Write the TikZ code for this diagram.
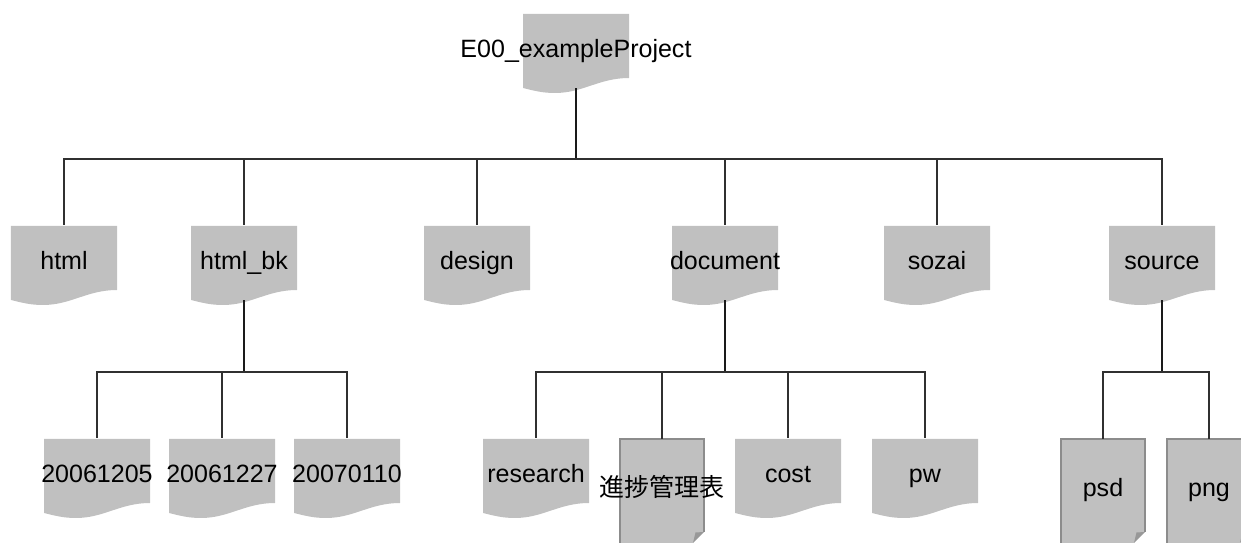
\documentclass[tikz,border=0pt]{standalone}
\usepackage{fontspec}
\setmainfont{Liberation Sans}
\newfontfamily\cjkfont{Noto Sans CJK JP}
\definecolor{docgray}{HTML}{C0C0C0}
\definecolor{edgegray}{HTML}{8C8C8C}
\definecolor{foldgray}{HTML}{989898}
\definecolor{wirecol}{HTML}{1A1A1A}
\definecolor{dropcol}{HTML}{303030}
\tikzset{
  doclabel/.style={inner sep=0pt,minimum width=1.06cm,text height=4pt,text depth=0pt,font=\fontsize{7.12}{8.5}\selectfont,text=black},
  wavebox/.style={doclabel,minimum height=0.74cm},
  pagebox/.style={doclabel,minimum width=0.84cm,minimum height=1cm},
  wavefill/.style={fill=docgray,draw=none},
  pagefill/.style={fill=docgray,draw=none},
  pageedge/.style={draw=edgegray,line width=0.45pt,line join=miter},
  foldfill/.style={fill=foldgray,draw=none},
  drop/.style={draw=dropcol,line width=0.34pt},
  trunk/.style={draw=wirecol,line width=0.5pt}
}
\newcommand{\wavedoc}[4]{%
  \path[wavefill] (#2,#3) -- (#2+106,#3) -- (#2+106,#3+64)
    .. controls (#2+76,#3+64) and (#2+60,#3+79) .. (#2+32,#3+79)
    .. controls (#2+20,#3+79) and (#2+12,#3+77) .. (#2,#3+74) -- cycle;
  \node[wavebox] (#1) at (#2+53,#3+36.6) {#4};
}
\newcommand{\pagedoc}[4]{%
  \path[pagefill] (#2,#3) -- (#2+84,#3) -- (#2+84,#3+93) -- (#2+73,#3+104) -- (#2,#3+104) -- cycle;
  \path[pageedge] (#2,#3+104) -- (#2,#3) -- (#2+84,#3) -- (#2+84,#3+93);
  \path[foldfill] (#2+84,#3+93) -- (#2+75.5,#3+93.5) -- (#2+73,#3+104) -- cycle;
  \node[pagebox] (#1) at (#2+42,#3+50.6) {#4};
}
\begin{document}
\begin{tikzpicture}[x=0.01cm,y=-0.01cm]
\useasboundingbox (0,0) rectangle (1241,543);
\clip (0,0) rectangle (1241,543);
\wavedoc{root}{523}{14}{E00\_exampleProject}
\wavedoc{html}{11}{226}{html}
\wavedoc{htmlbk}{191}{226}{html\_bk}
\wavedoc{design}{424}{226}{design}
\wavedoc{document}{672}{226}{document}
\wavedoc{sozai}{884}{226}{sozai}
\wavedoc{source}{1109}{226}{source}
\wavedoc{dateA}{44}{439}{20061205}
\wavedoc{dateB}{169}{439}{20061227}
\wavedoc{dateC}{294}{439}{20070110}
\wavedoc{research}{483}{439}{research}
\wavedoc{cost}{735}{439}{cost}
\wavedoc{pw}{872}{439}{pw}
\pagedoc{progress}{620}{439}{{\cjkfont 進捗管理表}}
\pagedoc{psd}{1061}{439}{psd}
\pagedoc{png}{1167}{439}{png}
\coordinate (busRoot) at (576,159);
\coordinate (busBk) at (244,372);
\coordinate (busDoc) at (725,372);
\coordinate (busSrc) at (1162,372);
\draw[trunk] (root.south) -- (busRoot);
\draw[trunk] (htmlbk.south) -- (busBk);
\draw[trunk] (document.south) -- (busDoc);
\draw[trunk] (source.south) -- (busSrc);
\foreach \n in {html,htmlbk,design,document,sozai,source}
  \draw[drop] (busRoot) -| (\n.north);
\foreach \n in {dateA,dateB,dateC}
  \draw[drop] (busBk) -| (\n.north);
\foreach \n in {research,progress,cost,pw}
  \draw[drop] (busDoc) -| (\n.north);
\foreach \n in {psd,png}
  \draw[drop] (busSrc) -| (\n.north);
\end{tikzpicture}
\end{document}
